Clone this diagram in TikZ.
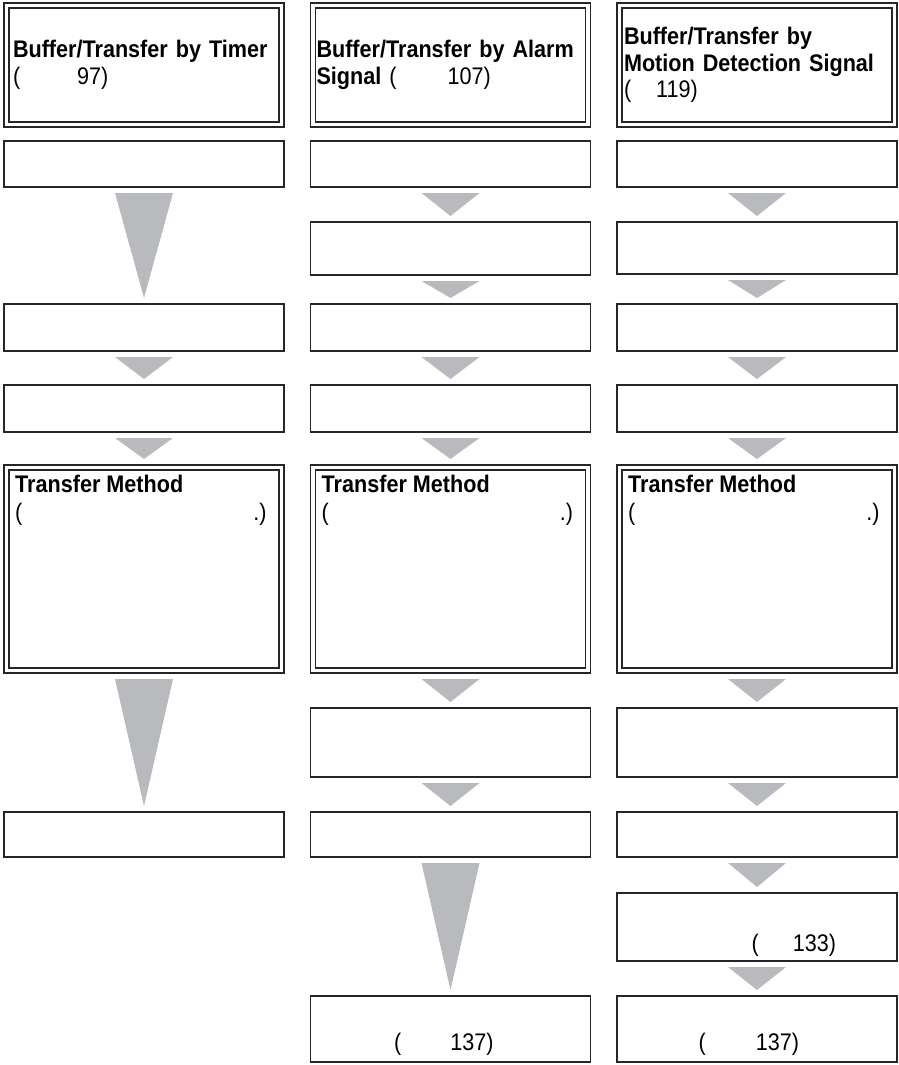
\documentclass[tikz,border=0pt]{standalone}
\usepackage{fontspec}
\setmainfont[FakeStretch=0.9]{Liberation Sans}
\usepackage{xcolor}
\usetikzlibrary{positioning}
\definecolor{linegray}{HTML}{262626}
\definecolor{trigray}{HTML}{B9BABD}
\tikzstyle{stepbox} = [rectangle, draw=linegray, line width=1.2pt, minimum width=280pt, anchor=north west, inner sep=0pt, outer sep=0pt]
\tikzstyle{headbox} = [stepbox, minimum height=124pt, text width=262pt, align=left, font=\fontsize{24}{26.5}\selectfont]
\tikzstyle{methodbox} = [stepbox, minimum height=208pt]
\tikzstyle{innerline} = [draw=linegray, line width=1.2pt]
\tikzstyle{txt} = [inner sep=0pt, anchor=base west, font=\fontsize{24}{26.5}\selectfont]
\tikzstyle{tri} = [fill=trigray]
\newcommand{\flowtri}[2]{\fill[tri] ([xshift=-29pt,yshift=-6pt]#1.south) -- ([xshift=29pt,yshift=-6pt]#1.south) -- ([yshift=6pt]#2.north) -- cycle;}

\begin{document}
\begin{tikzpicture}[x=1pt, y=-1pt]

\fill[white] (0,0) rectangle (899,1065);
\useasboundingbox (0,0) rectangle (899,1065);

% column 1: timer
\node (hdA) [headbox] at (4,3) {\textbf{Buffer/Transfer by Timer}\\(\hspace{57pt}97)};
\node (a1) [stepbox, minimum height=46pt] at (4,141) {};
\node (a3) [stepbox, minimum height=47pt] at (4,304) {};
\node (a4) [stepbox, minimum height=47pt] at (4,385) {};
\node (tmA) [methodbox] at (4,465) {};
\node (a6) [stepbox, minimum height=45pt] at (4,812) {};

% column 2: alarm signal
\node (hdB) [headbox, text width=268pt] at (310.5,3) {\textbf{Buffer/Transfer by Alarm}\\\textbf{Signal} (\hspace{51pt}107)};
\node (b1) [stepbox, minimum height=46pt] at (310.5,141) {};
\node (b2) [stepbox, minimum height=53pt] at (310.5,222) {};
\node (b3) [stepbox, minimum height=47pt] at (310.5,304) {};
\node (b4) [stepbox, minimum height=47pt] at (310.5,385) {};
\node (tmB) [methodbox] at (310.5,465) {};
\node (b5) [stepbox, minimum height=69pt] at (310.5,708) {};
\node (b6) [stepbox, minimum height=45pt] at (310.5,812) {};
\node (b8) [stepbox, minimum height=66pt] at (310.5,996) {};

% column 3: motion detection signal
\node (hdC) [headbox, text width=266pt] at (617,3) {\textbf{Buffer/Transfer by}\\\textbf{Motion Detection Signal}\\(\hspace{25pt}119)};
\node (c1) [stepbox, minimum height=46pt] at (617,141) {};
\node (c2) [stepbox, minimum height=52pt] at (617,222) {};
\node (c3) [stepbox, minimum height=47pt] at (617,304) {};
\node (c4) [stepbox, minimum height=47pt] at (617,385) {};
\node (tmC) [methodbox] at (617,465) {};
\node (c5) [stepbox, minimum height=69pt] at (617,708) {};
\node (c6) [stepbox, minimum height=45pt] at (617,812) {};
\node (c7) [stepbox, minimum height=68pt] at (617,893) {};
\node (c8) [stepbox, minimum height=66pt] at (617,996) {};

\foreach \m in {hdA,hdB,hdC,tmA,tmB,tmC}
  \draw[innerline] ([xshift=5pt,yshift=-5pt]\m.north west) rectangle ([xshift=-5pt,yshift=5pt]\m.south east);

\foreach \m in {tmA,tmB,tmC} {
  \node (\m t) [txt, font=\fontsize{24}{26.5}\selectfont\bfseries] at ([xshift=11pt,yshift=-27pt]\m.north west) {Transfer Method};
  \node (\m n) [txt] at ([xshift=11pt,yshift=-55pt]\m.north west) {(\hspace{231pt}.)};
}

\node (c7t) [txt] at ([xshift=134.5pt,yshift=-58pt]c7.north west) {(\hspace{34pt}133)};
\node (b8t) [txt] at ([xshift=83.5pt,yshift=-54pt]b8.north west) {(\hspace{49pt}137)};
\node (c8t) [txt] at ([xshift=81.5pt,yshift=-54pt]c8.north west) {(\hspace{50pt}137)};

% arrows
\flowtri{a1}{a3}
\flowtri{a3}{a4}
\flowtri{a4}{tmA}
\flowtri{tmA}{a6}

\flowtri{b1}{b2}
\flowtri{b2}{b3}
\flowtri{b3}{b4}
\flowtri{b4}{tmB}
\flowtri{tmB}{b5}
\flowtri{b5}{b6}
\flowtri{b6}{b8}

\flowtri{c1}{c2}
\flowtri{c2}{c3}
\flowtri{c3}{c4}
\flowtri{c4}{tmC}
\flowtri{tmC}{c5}
\flowtri{c5}{c6}
\flowtri{c6}{c7}
\flowtri{c7}{c8}

\end{tikzpicture}
\end{document}
